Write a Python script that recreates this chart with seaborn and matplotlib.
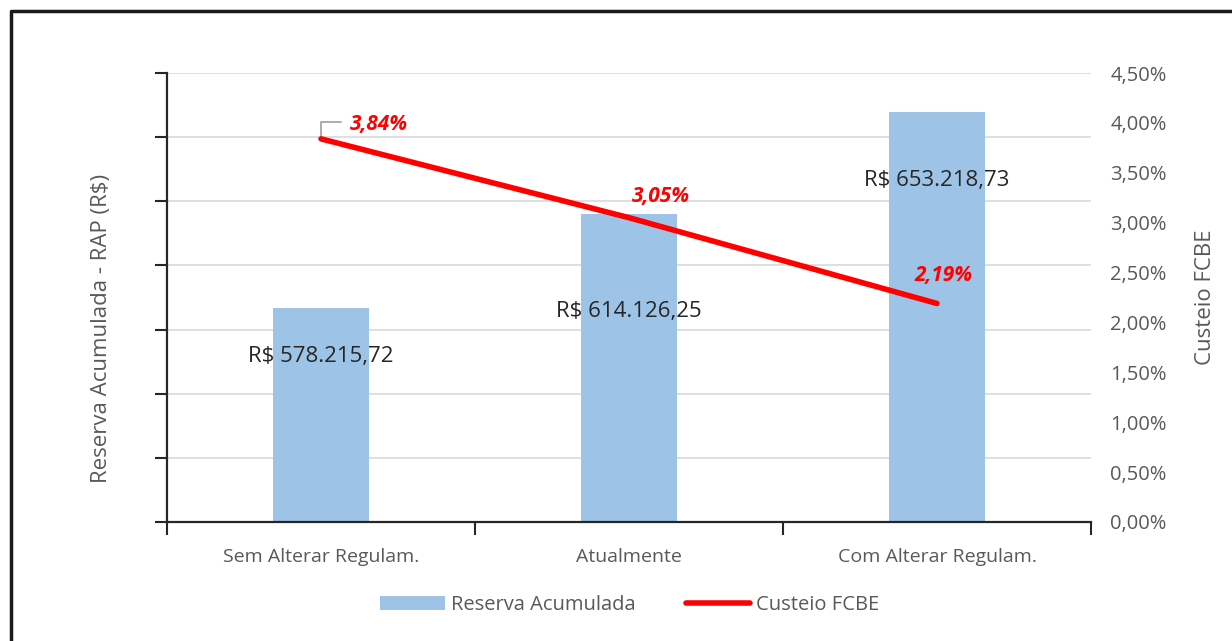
import numpy as np
import pandas as pd
import matplotlib
matplotlib.use("Agg")
import matplotlib.pyplot as plt
from matplotlib.lines import Line2D
from matplotlib.patches import Patch
import seaborn as sns

categories = ["Sem Alterar Regulam.", "Atualmente", "Com Alterar Regulam."]
reserva = [578215.72, 614126.25, 653218.73]
custeio = [3.84, 3.05, 2.19]
reserva_labels = ["R$ 578.215,72", "R$ 614.126,25", "R$ 653.218,73"]
custeio_labels = ["3,84%", "3,05%", "2,19%"]
right_ticks = [0.0, 0.5, 1.0, 1.5, 2.0, 2.5, 3.0, 3.5, 4.0, 4.5]

sns.set_theme(style="white")
plt.rcParams['font.family'] = ['Open Sans', 'DejaVu Sans']

GRAY = "#595959"
BAR = "#9DC3E6"

fig = plt.figure(figsize=(12.32, 6.41), dpi=100)
ax = fig.add_axes([167/1232, 1-522/641, (1091-167)/1232, (522-73)/641])

df = pd.DataFrame({"cat": categories, "val": reserva})
sns.barplot(data=df, x="cat", y="val", ax=ax, color=BAR, width=0.31,
            saturation=1, edgecolor="none", zorder=2)

ylo, yhi = 496344, 668309
ax.set_ylim(ylo, yhi)
ax.set_xlim(-0.5, len(categories) - 0.5)
yt = np.linspace(ylo, yhi, 8)
ax.set_yticks(yt)
ax.set_yticklabels([])
ax.yaxis.grid(True, color="#D9D9D9", linewidth=1.2, zorder=0)
ax.set_axisbelow(True)
ax.tick_params(axis="y", which="major", direction="out", length=9, width=1.5,
               color="#262626", left=True)
ax.set_xticks(range(len(categories)))
ax.set_xticklabels(categories, color=GRAY, fontsize=14)
ax.set_xticks([i - 0.5 for i in range(len(categories) + 1)], minor=True)
ax.tick_params(axis="x", which="major", length=0, pad=19)
ax.tick_params(axis="x", which="minor", direction="out", length=9, width=1.5,
               color="#262626", bottom=True)
for s in ["top", "right"]:
    ax.spines[s].set_visible(False)
for s in ["left", "bottom"]:
    ax.spines[s].set_color("#262626")
    ax.spines[s].set_linewidth(1.6)
ax.set_xlabel("")
ax.set_ylabel("Reserva Acumulada - RAP (R$)", color=GRAY, fontsize=16)
ax.yaxis.set_label_coords(-0.0595, 0.43)

label_offsets = [-48, -97, -68]
for i, (v, lab) in enumerate(zip(reserva, reserva_labels)):
    ax.annotate(lab, xy=(i, v), xytext=(0, label_offsets[i] * 0.72),
                textcoords="offset points", ha="center", va="center",
                fontsize=16, color="#262626", zorder=5)

ax2 = ax.twinx()
sns.lineplot(x=np.arange(len(categories)), y=custeio, ax=ax2, color="#FF0000",
             linewidth=4, zorder=4)
ax2.set_ylim(0, 4.5)
ax2.set_yticks(right_ticks)
ax2.set_yticklabels([f"{t:.2f}%".replace(".", ",") for t in right_ticks],
                    color=GRAY, fontsize=14.5)
ax2.tick_params(axis="y", length=0, pad=14)
for s in ax2.spines.values():
    s.set_visible(False)
ax2.set_ylabel("Custeio FCBE", color=GRAY, fontsize=16)
ax2.yaxis.set_label_coords(1.113, 0.5)

pct_offsets = [(58, 14), (32, 21), (7, 28)]
for i, (v, lab) in enumerate(zip(custeio, custeio_labels)):
    ax2.annotate(lab, xy=(i, v), xytext=(pct_offsets[i][0] * 0.72, pct_offsets[i][1] * 0.72),
                 textcoords="offset points", ha="center", va="center",
                 fontsize=15, color="#FF0000", fontweight="bold", style="italic", zorder=6)

# leader line for the first label
ax2.annotate("", xy=(0, custeio[0]), xytext=(20 * 0.72, 17 * 0.72),
             textcoords="offset points",
             arrowprops=dict(arrowstyle="-", color="#A6A6A6", lw=1.3,
                             connectionstyle="angle,angleA=0,angleB=90,rad=0",
                             shrinkA=0, shrinkB=0))

handles = [Patch(facecolor=BAR, edgecolor="none", label="Reserva Acumulada"),
           Line2D([0], [0], color="#FF0000", linewidth=4, label="Custeio FCBE")]
fig.legend(handles=handles, loc="center", bbox_to_anchor=(630/1232, 1-605/641),
           ncol=2, frameon=False, fontsize=14.5, labelcolor=GRAY,
           handlelength=3.2, columnspacing=2.5, handletextpad=0.3)

# outer frame (left and top)
fig.add_artist(Line2D([11/1232, 11/1232, 1.0], [0.0, 1-11/641, 1-11/641],
                      transform=fig.transFigure, color="#1a1a1a", linewidth=2.5))

fig.savefig("out.png", dpi=100, facecolor="white")
